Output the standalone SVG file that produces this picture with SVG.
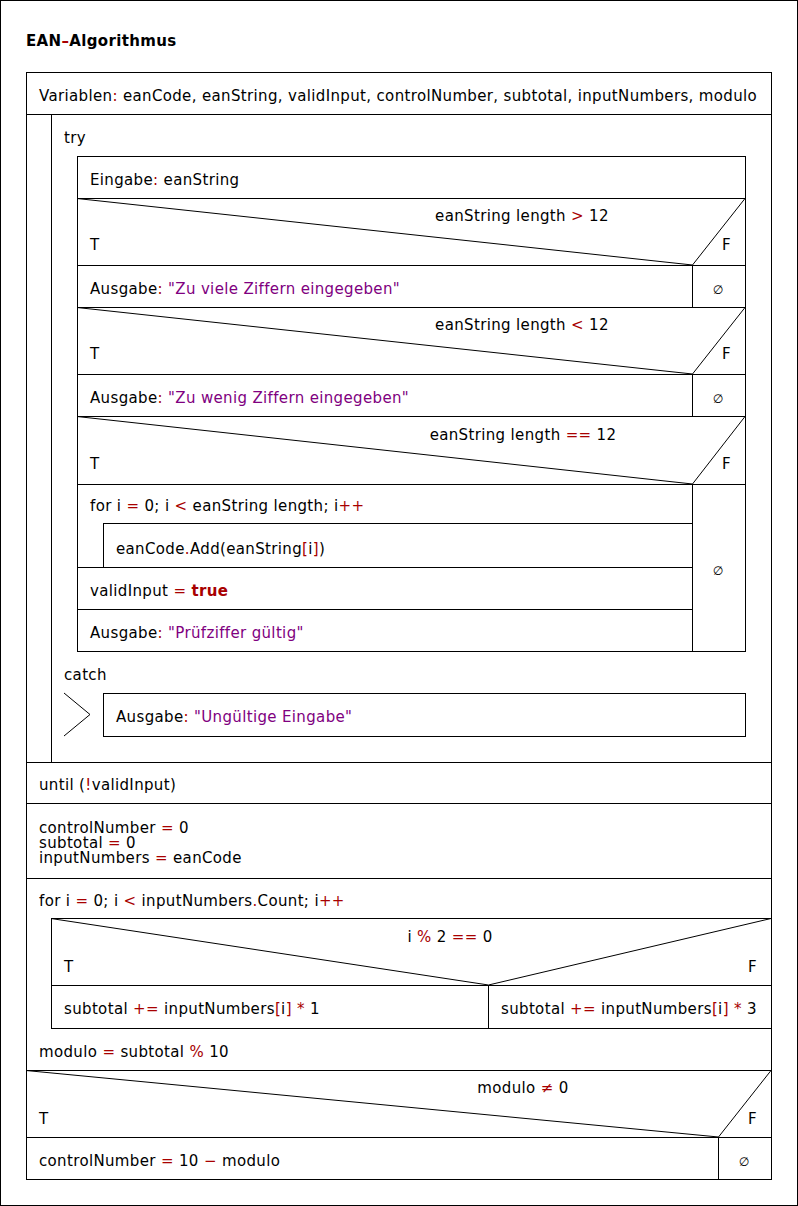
<svg xmlns="http://www.w3.org/2000/svg" width="798" height="1206" viewBox="0 0 798 1206">
<style>
rect,line,polyline{fill:none;stroke:#000;stroke-width:1}
text{font-family:"DejaVu Sans","Liberation Sans",sans-serif;font-size:15px;letter-spacing:0.35px;fill:#000}
.op{fill:#a80000}
.str{fill:#800080}
.kw{fill:#a80000;font-weight:bold}
.b{font-weight:bold}
.m{text-anchor:middle}
.sm{font-size:12px;letter-spacing:0}
</style>
<rect x="0.5" y="0.5" width="797" height="1205" fill="#fff"/>
<g id="title"><text x="26" y="46" class="b">EAN<tspan class="op">–</tspan>Algorithmus</text></g>
<g id="main">
<rect x="26.5" y="72.5" width="745" height="1107"/>
</g>
<g id="variablen">
<line x1="26" y1="114.5" x2="771" y2="114.5"/>
<text x="39" y="101">Variablen<tspan class="op">:</tspan> eanCode, eanString, validInput, controlNumber, subtotal, inputNumbers, modulo</text>
</g>
<g id="repeat">
<rect x="51.5" y="114.5" width="720" height="648"/>
<line x1="26" y1="762.5" x2="771" y2="762.5"/>
<text x="39" y="790">until (<tspan class="op">!</tspan>validInput)</text>
</g>
<g id="try">
<text x="64" y="143">try</text>
<rect x="77.5" y="156.5" width="668" height="495"/>
</g>
<g id="eingabe">
<line x1="77" y1="198.5" x2="745" y2="198.5"/>
<text x="90" y="185">Eingabe<tspan class="op">:</tspan> eanString</text>
</g>
<g id="if1">
<polyline points="77,198.5 692.5,265 745,198.5"/>
<line x1="77" y1="265.5" x2="745" y2="265.5"/>
<text x="522" y="221" class="m">eanString length <tspan class="op">&gt;</tspan> 12</text>
<text x="90" y="250">T</text>
<text x="722" y="250">F</text>
<text x="90" y="294">Ausgabe<tspan class="op">:</tspan> <tspan class="str">"Zu viele Ziffern eingegeben"</tspan></text>
<line x1="692.5" y1="265" x2="692.5" y2="307"/>
<text x="718" y="294" class="m sm">∅</text>
<line x1="77" y1="307.5" x2="745" y2="307.5"/>
</g>
<g id="if2">
<polyline points="77,307.5 692.5,374 745,307.5"/>
<line x1="77" y1="374.5" x2="745" y2="374.5"/>
<text x="522" y="330" class="m">eanString length <tspan class="op">&lt;</tspan> 12</text>
<text x="90" y="359">T</text>
<text x="722" y="359">F</text>
<text x="90" y="403">Ausgabe<tspan class="op">:</tspan> <tspan class="str">"Zu wenig Ziffern eingegeben"</tspan></text>
<line x1="692.5" y1="374" x2="692.5" y2="416"/>
<text x="718" y="403" class="m sm">∅</text>
<line x1="77" y1="416.5" x2="745" y2="416.5"/>
</g>
<g id="if3">
<polyline points="77,416.5 692.5,484 745,416.5"/>
<line x1="77" y1="484.5" x2="745" y2="484.5"/>
<text x="523" y="440" class="m">eanString length <tspan class="op">==</tspan> 12</text>
<text x="90" y="469">T</text>
<text x="722" y="469">F</text>
<line x1="692.5" y1="484" x2="692.5" y2="651"/>
<text x="718" y="575" class="m sm">∅</text>
</g>
<g id="for1">
<text x="90" y="511">for i <tspan class="op">=</tspan> 0; i <tspan class="op">&lt;</tspan> eanString length; i<tspan class="op">++</tspan></text>
<rect x="103.5" y="523.5" width="589" height="44"/>
<text x="116" y="554">eanCode<tspan class="op">.</tspan>Add(eanString<tspan class="op">[</tspan>i<tspan class="op">]</tspan>)</text>
<line x1="77" y1="567.5" x2="692" y2="567.5"/>
</g>
<g id="validInput">
<text x="90" y="596">validInput <tspan class="op">=</tspan> <tspan class="kw">true</tspan></text>
<line x1="77" y1="609.5" x2="692" y2="609.5"/>
</g>
<g id="ausgabe-gueltig">
<text x="90" y="638">Ausgabe<tspan class="op">:</tspan> <tspan class="str">"Prüfziffer gültig"</tspan></text>
</g>
<g id="catch">
<text x="64" y="680">catch</text>
<polyline points="64,693 90,714.5 64,736"/>
<rect x="103.5" y="693.5" width="642" height="43"/>
<text x="116" y="722">Ausgabe<tspan class="op">:</tspan> <tspan class="str">"Ungültige Eingabe"</tspan></text>
</g>
<g id="init">
<line x1="26" y1="803.5" x2="771" y2="803.5"/>
<text x="39" y="833">controlNumber <tspan class="op">=</tspan> 0</text>
<text x="39" y="848">subtotal <tspan class="op">=</tspan> 0</text>
<text x="39" y="863">inputNumbers <tspan class="op">=</tspan> eanCode</text>
<line x1="26" y1="878.5" x2="771" y2="878.5"/>
</g>
<g id="for2">
<text x="39" y="906">for i <tspan class="op">=</tspan> 0; i <tspan class="op">&lt;</tspan> inputNumbers<tspan class="op">.</tspan>Count; i<tspan class="op">++</tspan></text>
<rect x="51.5" y="918.5" width="720" height="110"/>
</g>
<g id="if-mod2">
<polyline points="51,918.5 488.5,985 771,918.5"/>
<line x1="51" y1="985.5" x2="771" y2="985.5"/>
<text x="450" y="942" class="m">i <tspan class="op">%</tspan> 2 <tspan class="op">==</tspan> 0</text>
<text x="64" y="972">T</text>
<text x="748" y="972">F</text>
<line x1="488.5" y1="985" x2="488.5" y2="1028"/>
<text x="64" y="1014">subtotal <tspan class="op">+=</tspan> inputNumbers<tspan class="op">[</tspan>i<tspan class="op">]</tspan> <tspan class="op">*</tspan> 1</text>
<text x="501" y="1014">subtotal <tspan class="op">+=</tspan> inputNumbers<tspan class="op">[</tspan>i<tspan class="op">]</tspan> <tspan class="op">*</tspan> 3</text>
</g>
<g id="modulo">
<text x="39" y="1057">modulo <tspan class="op">=</tspan> subtotal <tspan class="op">%</tspan> 10</text>
<line x1="26" y1="1070.5" x2="771" y2="1070.5"/>
</g>
<g id="if-modulo">
<polyline points="26,1070.5 718.5,1137 771,1070.5"/>
<line x1="26" y1="1137.5" x2="771" y2="1137.5"/>
<text x="523" y="1093" class="m">modulo <tspan class="op">≠</tspan> 0</text>
<text x="39" y="1124">T</text>
<text x="748" y="1124">F</text>
<line x1="718.5" y1="1137" x2="718.5" y2="1179"/>
<text x="39" y="1166">controlNumber <tspan class="op">=</tspan> 10 <tspan class="op">−</tspan> modulo</text>
<text x="744" y="1166" class="m sm">∅</text>
</g>
<g id="connectors"></g>
</svg>
